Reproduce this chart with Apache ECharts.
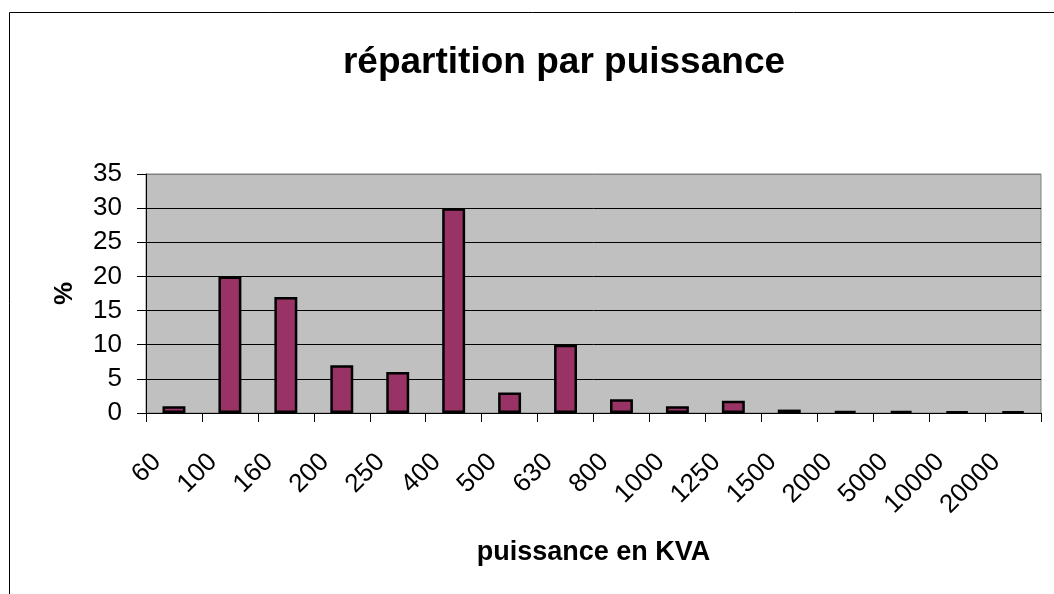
<!DOCTYPE html>
<html><head><meta charset="utf-8">
<script src="https://cdn.jsdelivr.net/npm/echarts@6/dist/echarts.min.js"></script>
<style>html,body{margin:0;padding:0;background:#fff}#c{width:1054px;height:594px}</style>
</head><body><div id="c"></div>
<script>
const categories = ['60','100','160','200','250','400','500','630','800','1000','1250','1500','2000','5000','10000','20000'];
const values = [1, 20, 17, 7, 6, 30, 3, 10, 2, 1, 1.8, 0.5, 0.3, 0.3, 0.2, 0.2];
const titleText = 'répartition par puissance';
const xName = 'puissance en KVA';
const yName = '%';

const FONT = '"Liberation Sans", Arial, sans-serif';
const chart = echarts.init(document.getElementById('c'), null, {renderer: 'canvas'});
chart.setOption({
  animation: false,
  backgroundColor: '#fff',
  graphic: [
    {type: 'rect', shape: {x: 9.5, y: 12.5, width: 1200, height: 700}, style: {fill: 'none', stroke: '#000', lineWidth: 1}, silent: true, z: -10},
    {type: 'text', x: 564, y: 63, style: {text: titleText, font: 'bold 37px ' + FONT, fill: '#000', textAlign: 'center', textVerticalAlign: 'middle'}}
  ],
  grid: {left: 146, right: 13, top: 174, bottom: 181, show: true, backgroundColor: '#C0C0C0', borderColor: '#808080', borderWidth: 1, containLabel: false},
  xAxis: {
    type: 'category', data: categories,
    name: xName, nameLocation: 'middle', nameGap: 126,
    nameTextStyle: {fontFamily: FONT, fontSize: 27, fontWeight: 'bold', color: '#000'},
    axisLine: {lineStyle: {color: '#000', width: 1}},
    axisTick: {show: true, length: 9, lineStyle: {color: '#000'}},
    axisLabel: {interval: 0, rotate: 45, margin: 28, padding: [0, 24, 0, 0], fontFamily: FONT, fontSize: 26, color: '#000'},
    splitLine: {show: false}
  },
  yAxis: {
    type: 'value', min: 0, max: 35, interval: 5,
    name: yName, nameLocation: 'middle', nameGap: 68,
    nameTextStyle: {fontFamily: FONT, fontSize: 26, fontWeight: 'bold', color: '#000'},
    axisLine: {show: true, lineStyle: {color: '#000', width: 1}},
    axisTick: {show: true, length: 9, lineStyle: {color: '#000'}},
    axisLabel: {margin: 24, fontFamily: FONT, fontSize: 26, color: '#000'},
    splitLine: {show: true, lineStyle: {color: ['#000','#000','#000','#000','#000','#000','#000','#808080'], width: 1}}
  },
  series: [{
    type: 'bar', data: values, barWidth: '41%',
    itemStyle: {color: '#993366', borderColor: '#000', borderWidth: 2.5}
  }]
});
</script></body></html>
